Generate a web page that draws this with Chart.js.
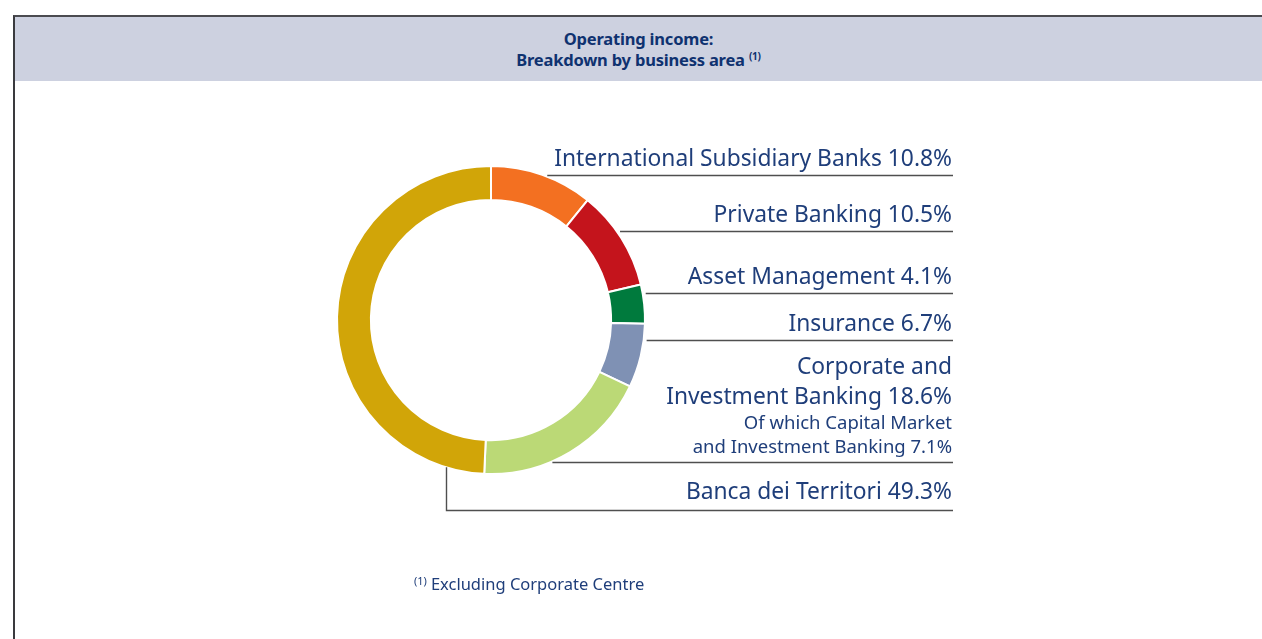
<!DOCTYPE html>
<html>
<head>
<meta charset="utf-8">
<script src="https://cdn.jsdelivr.net/npm/chart.js@4.4.1/dist/chart.umd.min.js"></script>
<style>
  body { margin: 0; background: #fff; font-family: "Noto Sans", sans-serif; }
  #frame { position: absolute; left: 13px; top: 15px; right: 0; bottom: 0;
           border-top: 2px solid #4b4b50; border-left: 2px solid #3a3a3e; }
  #head { height: 53px; padding-top: 11px; background: #cdd1e0; color: #0f3270;
          text-align: center; font-weight: bold; font-size: 16.5px; line-height: 21px;
          letter-spacing: -0.2px; }
  #head sup { font-size: 10px; vertical-align: 6px; line-height: 0; }
  #note { position: absolute; left: 414px; top: 574px; color: #1f3e7a;
          font-size: 16.5px; line-height: 20px; }
  #note sup { font-size: 11px; vertical-align: 5px; margin-right: 4px; line-height: 0; }
  #pie { position: absolute; left: 15px; top: 82px; }
</style>
</head>
<body>
<div id="frame">
  <div id="head">Operating income:<br>Breakdown by business area <sup>(1)</sup></div>
</div>
<canvas id="pie" width="1247" height="557"></canvas>
<div id="note"><sup>(1)</sup>Excluding Corporate Centre</div>

<script>
// operating income share by business area, clockwise from 12 o'clock
const categories = [
  'International Subsidiary Banks',
  'Private Banking',
  'Asset Management',
  'Insurance',
  'Corporate and\nInvestment Banking',
  'Banca dei Territori',
];
const shares = [10.8, 10.5, 4.1, 6.7, 18.6, 49.3];
const subNote = ['Of which Capital Market', 'and Investment Banking'];
const subShare = 7.1;

const colors = ['#f37021', '#c4141c', '#007a3d', '#7f91b4', '#bbd976', '#d1a508'];

// where each label's rule sits, relative to the donut centre
const ruleOffsets = [-145, -89, -27, 20, 142, 190];

const sideLabels = {
  id: 'sideLabels',
  afterDatasetsDraw(chart) {
    const ctx = chart.ctx;
    const arcs = chart.getDatasetMeta(0).data;
    const cx = arcs[0].x, cy = arcs[0].y, r = arcs[0].outerRadius;
    const rightX = cx + 462;
    ctx.save();
    ctx.strokeStyle = '#4f4f4f';
    ctx.lineWidth = 1.4;
    ctx.fillStyle = '#1f3e7a';
    ctx.textAlign = 'right';
    ctx.textBaseline = 'alphabetic';

    categories.forEach((cat, i) => {
      const y = Math.round(cy + ruleOffsets[i]) + 0.5;
      ctx.beginPath();
      if (i === categories.length - 1) {
        const vx = Math.round(cx - 45) + 0.5;
        ctx.moveTo(vx, cy + Math.sqrt(r * r - 45 * 45));
        ctx.lineTo(vx, y);
      } else {
        const dy = y - cy;
        ctx.moveTo(cx + Math.sqrt(r * r - dy * dy) + 3, y);
      }
      ctx.lineTo(rightX, y);
      ctx.stroke();

      const parts = cat.split('\n');
      const big = '22.8px "Noto Sans"', small = '18.5px "Noto Sans"';
      let lines = [];
      if (parts.length > 1) {
        lines.push({ t: parts[0], f: big, up: 89 });
        lines.push({ t: parts[1] + ' ' + shares[i].toFixed(1) + '%', f: big, up: 59 });
        lines.push({ t: subNote[0], f: small, up: 34 });
        lines.push({ t: subNote[1] + ' ' + subShare.toFixed(1) + '%', f: small, up: 10 });
      } else {
        lines.push({ t: cat + ' ' + shares[i].toFixed(1) + '%', f: big,
                     up: i === categories.length - 1 ? 12 : 10 });
      }
      lines.forEach(l => {
        ctx.font = l.f;
        ctx.fillText(l.t, rightX - 1, y - l.up);
      });
    });
    ctx.restore();
  }
};

new Chart(document.getElementById('pie'), {
  type: 'doughnut',
  data: {
    labels: categories,
    datasets: [{
      data: shares,
      backgroundColor: colors,
      borderColor: '#ffffff',
      borderWidth: 2,
    }]
  },
  options: {
    responsive: false,
    animation: false,
    cutout: '78%',
    layout: { padding: { left: 321, right: 616, top: 83, bottom: 164 } },
    plugins: {
      legend: { display: false },
      tooltip: { enabled: false },
    }
  },
  plugins: [sideLabels]
});
</script>
</body>
</html>
